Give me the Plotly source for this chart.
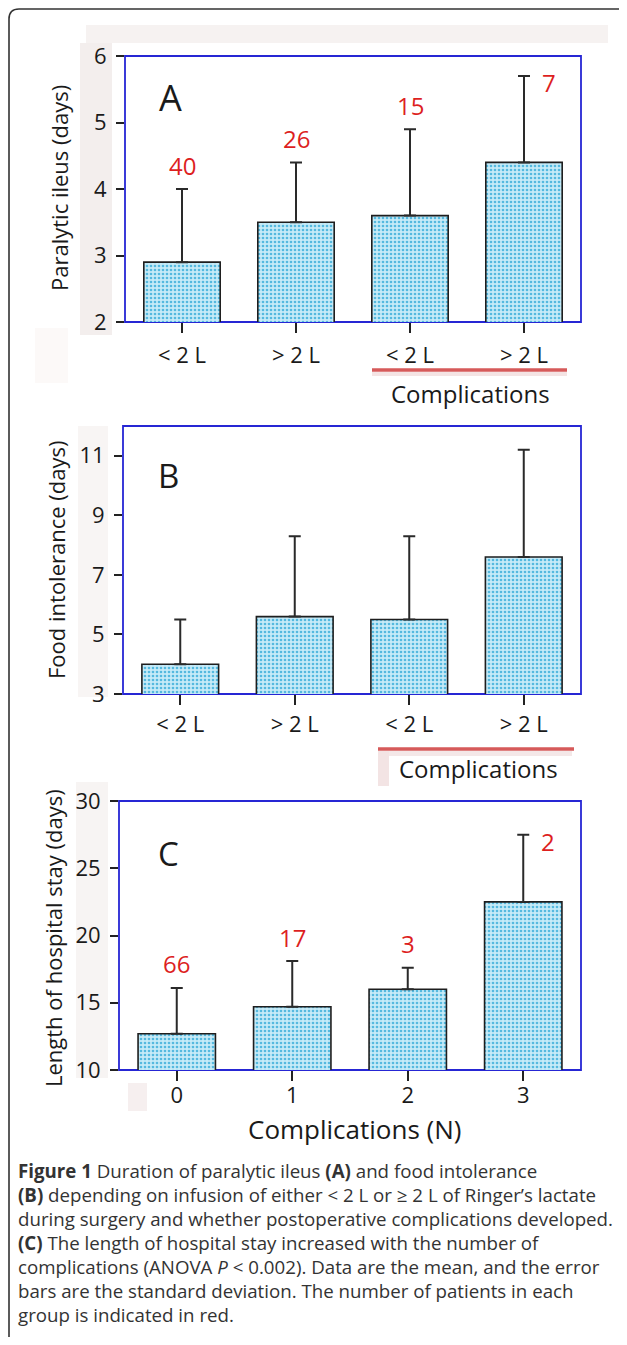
import plotly.graph_objects as go

# ---------------- data ----------------
A_categories = ["< 2 L", "> 2 L", "< 2 L", "> 2 L"]
A_means = [2.9, 3.5, 3.6, 4.4]
A_sd = [1.1, 0.9, 1.3, 1.3]
A_n = [40, 26, 15, 7]

B_categories = ["< 2 L", "> 2 L", "< 2 L", "> 2 L"]
B_means = [4.0, 5.6, 5.5, 7.6]
B_sd = [1.5, 2.7, 2.8, 3.6]

C_categories = ["0", "1", "2", "3"]
C_means = [12.7, 14.7, 16.0, 22.5]
C_sd = [3.4, 3.4, 1.6, 5.0]
C_n = [66, 17, 3, 2]

caption_lines = [
    "<b>Figure 1</b> Duration of paralytic ileus <b>(A)</b> and food intolerance",
    "<b>(B)</b> depending on infusion of either &lt; 2 L or \u2265 2 L of Ringer\u2019s lactate",
    "during surgery and whether postoperative complications developed.",
    "<b>(C)</b> The length of hospital stay increased with the number of",
    "complications (ANOVA <i>P</i> &lt; 0.002). Data are the mean, and the error",
    "bars are the standard deviation. The number of patients in each",
    "group is indicated in red.",
]

# ---------------- layout helpers ----------------
# the page body keeps its default 8 px margin, so the figure is sized to fit
# the 627x1345 window and window-pixel positions are converted accordingly
OFF = 8
W, H = 627 - OFF, 1345 - 2 * OFF
FONT = "Open Sans"
def px(x):
    return (x - OFF) / W
def py(y):
    return 1 - (y - OFF) / H

BAR_BG = "#c6ebf8"
BAR_DOT = "#55b9df"
AXIS_BLUE = "#2626d4"
RED = "#dd1f1f"

fig = go.Figure()

panels = [
    dict(cats=A_categories, means=A_means, sd=A_sd, n=A_n, xa="x", ya="y"),
    dict(cats=B_categories, means=B_means, sd=B_sd, n=None, xa="x2", ya="y2"),
    dict(cats=C_categories, means=C_means, sd=C_sd, n=C_n, xa="x3", ya="y3"),
]

for p in panels:
    xs = list(range(len(p["cats"])))
    fig.add_trace(go.Bar(
        x=xs, y=p["means"], width=0.67,
        xaxis=p["xa"], yaxis=p["ya"],
        marker=dict(
            color=BAR_BG,
            line=dict(color="#1e1e1e", width=1.6),
            pattern=dict(shape=".", fillmode="replace", bgcolor=BAR_BG,
                         fgcolor=BAR_DOT, size=4, solidity=0.35),
        ),
        error_y=dict(type="data", symmetric=False, array=p["sd"],
                     arrayminus=[0] * len(p["sd"]),
                     color="#2a2a2a", thickness=2, width=6),
        showlegend=False, hoverinfo="skip",
    ))
    # count labels in red
    if p["n"] is not None:
        last = len(p["n"]) - 1
        for i, (m, s, n) in enumerate(zip(p["means"], p["sd"], p["n"])):
            if i == last:
                fig.add_annotation(x=i, y=m + s, xref=p["xa"], yref=p["ya"],
                                   text=str(n), showarrow=False,
                                   xshift=25, yshift=-7,
                                   font=dict(family=FONT, size=24, color=RED))
            else:
                fig.add_annotation(x=i, y=m + s, xref=p["xa"], yref=p["ya"],
                                   text=str(n), showarrow=False, yshift=24,
                                   font=dict(family=FONT, size=24, color=RED))

# axes
common_x = dict(range=[-0.5, 3.5], autorange=False, automargin=False,
                showgrid=False, zeroline=False, showline=False,
                ticks="outside", ticklen=10, tickwidth=1.6, tickcolor="#222",
                tickvals=[0, 1, 2, 3],
                tickfont=dict(family=FONT, size=22, color="#1a1a1a"))
common_y = dict(autorange=False, automargin=False, showgrid=False, zeroline=False,
                showline=False,
                ticks="outside", ticklen=8, tickwidth=1.6, tickcolor="#222",
                ticklabelstandoff=5,
                tickfont=dict(family=FONT, size=22, color="#1a1a1a"))

fig.update_layout(
    width=W, height=H,
    margin=dict(l=0, r=0, t=0, b=0, pad=0),
    paper_bgcolor="white", plot_bgcolor="white",
    xaxis=dict(common_x, domain=[px(125), px(581)], anchor="y",
               ticktext=A_categories, ticklabelstandoff=4),
    yaxis=dict(common_y, domain=[py(322), py(56)], anchor="x", range=[2, 6],
               tickvals=[2, 3, 4, 5, 6]),
    xaxis2=dict(common_x, domain=[px(123), px(581)], anchor="y2",
                ticktext=B_categories, ticklabelstandoff=1),
    yaxis2=dict(common_y, domain=[py(694), py(426)], anchor="x2", range=[3, 12],
                tickvals=[3, 5, 7, 9, 11]),
    xaxis3=dict(common_x, domain=[px(119), px(581)], anchor="y3",
                ticktext=C_categories, ticklabelstandoff=-4),
    yaxis3=dict(common_y, domain=[py(1070), py(801)], anchor="x3", range=[10, 30],
                tickvals=[10, 15, 20, 25, 30]),
)

shapes = []
# faint scan artefacts of the original figure
faint = [
    (86, 25, 608, 43, "#f6f2f1"),
    (80, 43, 112, 335, "#f3eeed"),
    (35, 328, 68, 383, "#fcf9f8"),
    (78, 426, 108, 697, "#f8f5f4"),
    (76, 782, 108, 1078, "#f7f4f3"),
    (128, 1083, 147, 1111, "#f6efef"),
    (378, 751, 389, 786, "#f3e4e4"),
    (389, 751, 572, 756, "#f4e8e8"),
    (372, 372, 567, 376, "#f4e4e4"),
]
for x0, y0, x1, y1, c in faint:
    shapes.append(dict(type="rect", xref="paper", yref="paper",
                       x0=px(x0), x1=px(x1), y0=py(y0), y1=py(y1),
                       fillcolor=c, line=dict(width=0), layer="below"))
# blue plot frames drawn on each axis domain
for xa, ya in (("x", "y"), ("x2", "y2"), ("x3", "y3")):
    shapes.append(dict(type="rect", xref=f"{xa} domain", yref=f"{ya} domain",
                       x0=0, x1=1, y0=0, y1=1, layer="below",
                       line=dict(color=AXIS_BLUE, width=1.8)))
# red "Complications" brackets
shapes.append(dict(type="line", xref="paper", yref="paper",
                   x0=px(372), x1=px(567), y0=py(370), y1=py(370),
                   line=dict(color="#d65a5a", width=3.5)))
shapes.append(dict(type="line", xref="paper", yref="paper",
                   x0=px(378), x1=px(574), y0=py(749), y1=py(749),
                   line=dict(color="#d65a5a", width=3.5)))
# outer rounded frame
frame = (f"M {px(627)},{py(12)} Q {px(623)},{py(9)} {px(618)},{py(9)} "
         f"L {px(19)},{py(9)} Q {px(9)},{py(9)} {px(9)},{py(19)} "
         f"L {px(9)},{py(1337)}")
shapes.append(dict(type="path", xref="paper", yref="paper", path=frame,
                   line=dict(color="#333333", width=1.6)))
fig.update_layout(shapes=shapes)

def ann(x, y, text, size, color="#1a1a1a", angle=0, xanchor="center", family=FONT):
    fig.add_annotation(x=px(x), y=py(y), xref="paper", yref="paper", text=text,
                       showarrow=False, textangle=angle, xanchor=xanchor,
                       yanchor="middle",
                       font=dict(family=family, size=size, color=color))

# panel letters
ann(170, 98, "A", 36)
ann(168, 475, "B", 33)
ann(168, 853, "C", 33)
# y titles
ann(59, 188, "Paralytic ileus (days)", 22, angle=-90)
ann(56, 560, "Food intolerance (days)", 22, angle=-90)
ann(53, 938, "Length of hospital stay (days)", 22, angle=-90)
# x titles
ann(470, 393, "Complications", 24)
ann(478, 768, "Complications", 24)
ann(355, 1129, "Complications (N)", 26)

# caption
for i, line in enumerate(caption_lines):
    ann(16, 1170 + 24 * i, line, 18.7, color="#333333", xanchor="left")

fig.write_html("out.html")
